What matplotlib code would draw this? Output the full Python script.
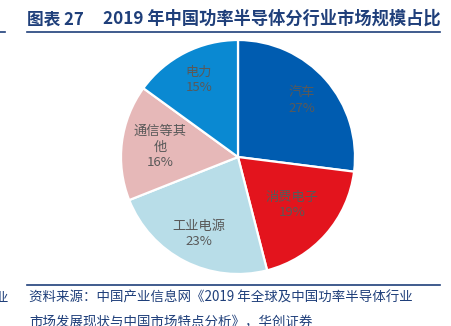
import matplotlib.pyplot as plt
import numpy as np

plt.rcParams['font.family'] = ['Noto Sans CJK SC', 'DejaVu Sans']

# data
sectors = ['汽车', '消费电子', '工业电源', '通信等其\n他', '电力']
shares = [27, 19, 23, 16, 15]
colors = ['#005CB0', '#E3141D', '#B8DDE8', '#E6B8B8', '#0A89D2']
label_r = [0.73, 0.62, 0.74, 0.67, 0.74]

W, H = 452, 326
fig = plt.figure(figsize=(W / 100, H / 100), dpi=100)

# pie axes: centre (238,157) px, radius 117 px
cx, cy, R = 238, 157, 117
ax = fig.add_axes([(cx - R) / W, (H - cy - R) / H, 2 * R / W, 2 * R / H])
wedges, _ = ax.pie(shares, colors=colors, startangle=90, counterclock=False,
                   wedgeprops=dict(edgecolor='white', linewidth=1.6))
ax.set_xlim(-1, 1)
ax.set_ylim(-1, 1)
ax.set_aspect('equal')
ax.axis('off')

for w, name, val, r in zip(wedges, sectors, shares, label_r):
    t = np.deg2rad((w.theta1 + w.theta2) / 2)
    ax.text(r * np.cos(t), r * np.sin(t), f'{name}\n{val}%', ha='center', va='center',
            fontsize=9.5, color='#595959', linespacing=1.25)

navy = '#1F3F7A'
# title and rules
fig.text(27 / W, 1 - 19 / H, '图表 27', fontsize=12, fontweight='bold', color=navy, va='center')
fig.text(103 / W, 1 - 19 / H, '2019 年中国功率半导体分行业市场规模占比', fontsize=12.4,
         fontweight='bold', color=navy, va='center')
fig.add_artist(plt.Line2D([27 / W, 440 / W], [1 - 31.5 / H] * 2, color=navy, lw=1.2))
fig.add_artist(plt.Line2D([0, 5 / W], [1 - 31.5 / H] * 2, color=navy, lw=1.2))
fig.add_artist(plt.Line2D([27 / W, 440 / W], [1 - 285 / H] * 2, color=navy, lw=1.2))

# source note (second line is cut by the bottom edge, as in the original)
fig.text(29 / W, 1 - 298 / H, '资料来源：中国产业信息网《2019 年全球及中国功率半导体行业',
         fontsize=9.7, color=navy, va='center')
fig.text(29 / W, 1 - 321 / H, '市场发展现状与中国市场特点分析》，华创证券',
         fontsize=9.7, color=navy, va='center')
fig.text(-6 / W, 1 - 298 / H, '业', fontsize=9.7, color=navy, va='center')

fig.savefig('out.png', dpi=100)
